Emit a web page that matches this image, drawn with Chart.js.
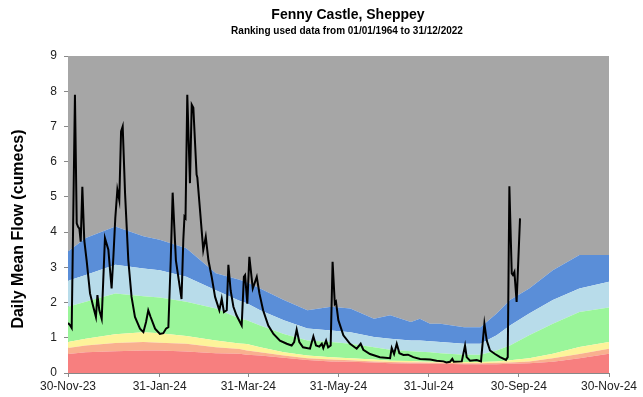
<!DOCTYPE html>
<html>
<head>
<meta charset="utf-8">
<script src="https://cdn.jsdelivr.net/npm/chart.js@4.4.0/dist/chart.umd.min.js"></script>
<style>
  html, body { margin: 0; padding: 0; background: #fff; }
  #wrap { width: 643px; height: 397px; }
</style>
</head>
<body>
<div id="wrap"><canvas id="flowChart" width="643" height="397"></canvas></div>
<script>
// x positions are days since 30-Nov-23
const tickDays = [0, 62, 122, 183, 244, 305, 366];
const tickLabels = ['30-Nov-23', '31-Jan-24', '31-Mar-24', '31-May-24', '31-Jul-24', '30-Sep-24', '30-Nov-24'];

// ranking bands (upper edge of each band, cumecs)
const bandDays = [0, 12, 32, 51, 62, 80, 100, 116, 121, 130, 146, 162, 178, 191, 207, 218, 232, 238, 245, 252, 268, 279, 290, 299, 312, 328, 346, 366];
const lowTop = [0.54, 0.59, 0.62, 0.64, 0.64, 0.61, 0.56, 0.55, 0.52, 0.50, 0.43, 0.37, 0.33, 0.32, 0.30, 0.28, 0.27, 0.27, 0.26, 0.26, 0.25, 0.25, 0.25, 0.26, 0.28, 0.32, 0.42, 0.55];
const belowNormalTop = [0.71, 0.78, 0.85, 0.88, 0.86, 0.83, 0.73, 0.68, 0.64, 0.59, 0.50, 0.42, 0.38, 0.36, 0.33, 0.31, 0.30, 0.30, 0.29, 0.29, 0.28, 0.28, 0.29, 0.30, 0.33, 0.42, 0.54, 0.69];
const lowNormalTop = [0.88, 0.97, 1.10, 1.16, 1.13, 1.05, 0.92, 0.84, 0.82, 0.73, 0.59, 0.50, 0.45, 0.42, 0.38, 0.35, 0.34, 0.33, 0.32, 0.31, 0.31, 0.31, 0.33, 0.36, 0.42, 0.55, 0.74, 0.88];
const normalTop = [1.88, 2.02, 2.26, 2.18, 2.14, 2.02, 1.83, 1.55, 1.50, 1.35, 1.11, 0.92, 0.88, 0.83, 0.73, 0.66, 0.62, 0.60, 0.59, 0.56, 0.52, 0.52, 0.64, 0.78, 1.07, 1.40, 1.73, 1.86];
const aboveNormalTop = [2.62, 2.78, 3.07, 2.97, 2.92, 2.73, 2.35, 2.05, 1.98, 1.78, 1.50, 1.26, 1.21, 1.16, 1.02, 0.97, 0.92, 0.92, 0.90, 0.88, 0.83, 0.83, 1.07, 1.35, 1.69, 2.07, 2.40, 2.59];
const highTop = [3.45, 3.83, 4.16, 3.88, 3.78, 3.54, 2.83, 2.65, 2.58, 2.40, 2.07, 1.78, 1.88, 1.83, 1.54, 1.64, 1.45, 1.54, 1.40, 1.40, 1.30, 1.30, 1.69, 2.07, 2.40, 2.92, 3.35, 3.35];
const ceilingTop = bandDays.map(() => 9);

// daily mean flow
const flowDays = [0, 1.5, 2.5, 4.7, 5.9, 6.8, 7.7, 8.6, 9.7, 11, 12.6, 14.9, 17.1, 18.9, 19.9, 21.2, 22.8, 25, 27.3, 29.5, 30.7, 32, 33.4, 34.7, 35.9, 37, 38.6, 40.8, 43, 45.3, 48.7, 51, 52.8, 54.3, 55.9, 58.9, 62.2, 64.5, 66.3, 67.9, 69.5, 70.8, 73, 76.8, 78, 78.8, 79.5, 80.7, 82.5, 83.7, 84.8, 87, 87.5, 89.3, 91.5, 93.2, 95, 97.2, 99.5, 102.4, 104, 105.5, 107.4, 108.5, 110, 111.9, 114, 117.5, 119, 119.8, 121.3, 122.7, 125, 127.7, 129.5, 132, 135.5, 139, 143.4, 148, 151.3, 153, 154.7, 156.5, 159, 163.7, 166, 167.8, 170, 171.7, 172.7, 174.6, 176, 177.7, 179, 180.5, 181.3, 182.9, 186.3, 190.8, 195.3, 198, 199.8, 204.3, 211, 217.9, 219, 220.6, 222.4, 224.2, 226.9, 230, 233.6, 238.2, 245, 249.4, 254, 256, 258.5, 260, 261, 266.4, 268.6, 269.7, 272, 276.5, 279.4, 281.7, 283.3, 285.5, 288.9, 292.3, 296.3, 297.5, 298.6, 300.2, 301, 302, 303.5, 305.8];
const flowValues = [1.42, 1.35, 1.28, 7.9, 4.25, 4.15, 4.1, 3.73, 5.29, 3.77, 3.2, 2.26, 1.88, 1.59, 2.21, 1.78, 1.54, 3.83, 3.5, 2.4, 3.3, 4.4, 5.2, 4.91, 6.86, 7.0, 5.1, 3.2, 2.16, 1.59, 1.26, 1.16, 1.45, 1.78, 1.59, 1.26, 1.11, 1.13, 1.26, 1.3, 3.2, 5.12, 3.2, 2.1, 3.77, 4.44, 4.4, 7.9, 5.39, 7.62, 7.53, 5.63, 5.55, 4.63, 3.49, 3.87, 3.2, 2.73, 2.16, 1.78, 2.11, 1.73, 1.78, 3.07, 2.35, 1.88, 1.64, 1.35, 2.73, 2.78, 1.97, 3.3, 2.4, 2.73, 2.26, 1.78, 1.35, 1.11, 0.92, 0.83, 0.78, 0.88, 1.23, 0.88, 0.73, 0.69, 1.04, 0.78, 0.75, 0.83, 0.71, 0.92, 0.73, 0.78, 3.16, 1.97, 2.02, 1.5, 1.07, 0.83, 0.69, 0.83, 0.66, 0.54, 0.45, 0.42, 0.71, 0.54, 0.83, 0.56, 0.51, 0.52, 0.45, 0.4, 0.38, 0.35, 0.33, 0.30, 0.32, 0.4, 0.32, 0.33, 0.78, 0.45, 0.35, 0.37, 0.33, 1.4, 0.92, 0.64, 0.54, 0.45, 0.37, 0.45, 5.3, 2.83, 2.78, 2.87, 2.02, 4.39];

const bands = [
  { top: lowTop, color: '#f77f7f' },
  { top: belowNormalTop, color: '#f9b08f' },
  { top: lowNormalTop, color: '#fdf39a' },
  { top: normalTop, color: '#9af59a' },
  { top: aboveNormalTop, color: '#b8dcea' },
  { top: highTop, color: '#5a8ed8' },
  { top: ceilingTop, color: '#a6a6a6' }
];

const FONT = 'Liberation Sans, Arial, sans-serif';

const bandSets = bands.map((b, i) => ({
  data: bandDays.map((d, j) => ({ x: d, y: b.top[j] })),
  backgroundColor: b.color,
  borderColor: 'rgba(0,0,0,0)',
  borderWidth: 0,
  pointRadius: 0,
  tension: 0,
  fill: i === 0 ? 'origin' : '-1',
  order: 1
}));

const flowSet = {
  data: flowDays.map((d, i) => ({ x: d, y: flowValues[i] })),
  borderColor: '#000',
  borderWidth: 2,
  pointRadius: 0,
  tension: 0,
  fill: false,
  order: 0
};

// titles drawn straight onto the canvas
const titlesPlugin = {
  id: 'titles',
  afterDraw(chart) {
    const ctx = chart.ctx;
    ctx.save();
    ctx.fillStyle = '#000';
    ctx.textAlign = 'center';
    ctx.textBaseline = 'middle';
    ctx.font = 'bold 14px ' + FONT;
    ctx.fillText('Fenny Castle, Sheppey', 348, 15);
    ctx.font = 'bold 10px ' + FONT;
    ctx.fillText('Ranking used data from 01/01/1964 to 31/12/2022', 347, 31);
    ctx.translate(19, 229);
    ctx.rotate(-Math.PI / 2);
    ctx.font = 'bold 16px ' + FONT;
    ctx.fillText('Daily Mean Flow (cumecs)', 0, 0);
    ctx.restore();
  }
};

new Chart(document.getElementById('flowChart'), {
  type: 'line',
  data: { datasets: [flowSet].concat(bandSets) },
  options: {
    responsive: false,
    animation: false,
    devicePixelRatio: 1,
    layout: { padding: { top: 56, right: 34, left: 0, bottom: 0 } },
    plugins: {
      legend: { display: false },
      tooltip: { enabled: false },
      filler: { propagate: false }
    },
    scales: {
      x: {
        type: 'linear',
        min: 0,
        max: 366,
        afterBuildTicks(scale) {
          scale.ticks = tickDays.map(v => ({ value: v }));
        },
        afterFit(scale) { scale.height = 24; },
        ticks: {
          autoSkip: false,
          maxRotation: 0,
          padding: 2,
          color: '#222',
          font: { family: FONT, size: 12 },
          callback: v => tickLabels[tickDays.indexOf(v)]
        },
        grid: { drawOnChartArea: false, tickLength: 4, color: '#888' },
        border: { color: '#888' }
      },
      y: {
        min: 0,
        max: 9,
        afterFit(scale) { scale.width = 68; },
        ticks: {
          stepSize: 1,
          padding: 7,
          color: '#222',
          font: { family: FONT, size: 12 }
        },
        grid: { drawOnChartArea: false, tickLength: 4, color: '#888' },
        border: { color: '#888' }
      }
    }
  },
  plugins: [titlesPlugin]
});
</script>
</body>
</html>
